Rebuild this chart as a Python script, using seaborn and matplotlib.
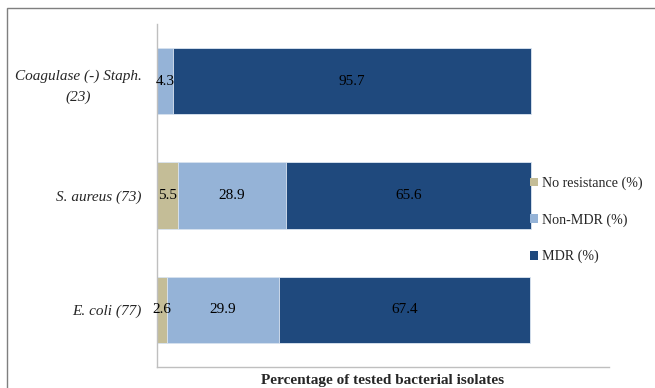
import matplotlib
matplotlib.use("Agg")
import matplotlib.pyplot as plt
from matplotlib.patches import Patch, Rectangle
import numpy as np
import pandas as pd
import seaborn as sns

categories = ["Coagulase (-) Staph.\n(23)", "S. aureus (73)", "E. coli (77)"]
no_resistance = [0.0, 5.5, 2.6]
non_mdr = [4.3, 28.9, 29.9]
mdr = [95.7, 65.6, 67.4]
series_names = ["No resistance (%)", "Non-MDR (%)", "MDR (%)"]
colors = ["#C4BD97", "#95B3D7", "#1F497D"]

sns.set_theme(style="white")
plt.rcParams["font.family"] = ["Liberation Serif", "DejaVu Serif"]

df = pd.DataFrame({
    "category": categories,
    "nr": no_resistance,
    "nm": non_mdr,
    "mdr": mdr,
})
df["c1"] = df["nr"]
df["c2"] = df["nr"] + df["nm"]
df["c3"] = df["c2"] + df["mdr"]

fig = plt.figure(figsize=(6.55, 3.88), dpi=100)
ax = fig.add_axes([157 / 655, 1 - 367 / 388, (609 - 157) / 655, (367 - 24) / 388])

# stacked bars: draw cumulative totals from the outermost segment inward
for col, color in zip(["c3", "c2", "c1"], colors[::-1]):
    sns.barplot(data=df, x=col, y="category", color=color, orient="h",
                width=0.58, edgecolor="#DCE6F2", linewidth=0.6,
                saturation=1, ax=ax)

# value labels centred in each segment
for i in range(len(categories)):
    starts = [0, df["c1"][i], df["c2"][i]]
    vals = [no_resistance[i], non_mdr[i], mdr[i]]
    for s, v in zip(starts, vals):
        if v > 0:
            ax.text(s + v / 2, i, f"{v:.1f}", ha="center", va="center",
                    fontsize=11, color="black")

ax.set_xlim(0, 120.9)
ax.set_ylim(2.5, -0.5)
ax.set_xticks([])
ax.set_ylabel("")
ax.set_xlabel("Percentage of tested bacterial isolates", fontsize=11,
              fontweight="bold", labelpad=5)
ax.tick_params(axis="y", length=0, pad=11)
for lab in ax.get_yticklabels():
    lab.set_fontstyle("italic")
    lab.set_fontsize(11)
    lab.set_multialignment("center")
    lab.set_linespacing(1.75)

for side in ["top", "right"]:
    ax.spines[side].set_visible(False)
for side in ["left", "bottom"]:
    ax.spines[side].set_color("#BFBFBF")
    ax.spines[side].set_linewidth(1.0)

handles = [Patch(facecolor=c, edgecolor="none") for c in colors]
fig.legend(handles, series_names, loc="upper left",
           bbox_to_anchor=(524 / 655, 1 - 171 / 388), frameon=False,
           fontsize=10.1, handlelength=0.6, handleheight=0.6,
           handletextpad=0.3, labelspacing=1.65, borderaxespad=0)

# outer chart frame
fig.patches.append(Rectangle((7 / 655, -0.05), 1.0, 1 - 8 / 388 + 0.05,
                             transform=fig.transFigure, fill=False,
                             edgecolor="#7F7F7F", linewidth=1.0))

fig.savefig("out.png", dpi=100)
